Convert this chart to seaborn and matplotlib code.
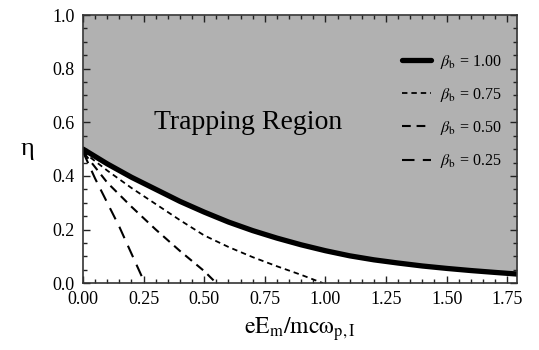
import numpy as np
import pandas as pd
import matplotlib
matplotlib.use("Agg")
import matplotlib.pyplot as plt
import seaborn as sns
from matplotlib.ticker import MultipleLocator

# ---- data ----
x_b100 = [0.0, 0.1, 0.2, 0.3, 0.4, 0.5, 0.6, 0.7, 0.8, 0.9, 1.0, 1.1, 1.2, 1.3, 1.4, 1.5, 1.6, 1.7, 1.79]
y_b100 = [0.50, 0.445, 0.395, 0.35, 0.305, 0.265, 0.228, 0.196, 0.168, 0.143, 0.121, 0.102, 0.087, 0.075, 0.064, 0.055, 0.047, 0.040, 0.034]

x_b075 = [0.0, 0.1, 0.2, 0.3, 0.4, 0.5, 0.6, 0.7, 0.8, 0.9, 0.99]
y_b075 = [0.49, 0.42, 0.355, 0.295, 0.235, 0.178, 0.135, 0.097, 0.063, 0.031, 0.0]

x_b050 = [0.0, 0.1, 0.2, 0.3, 0.4, 0.5, 0.55]
y_b050 = [0.49, 0.375, 0.285, 0.20, 0.12, 0.045, 0.0]

x_b025 = [0.0, 0.05, 0.1, 0.15, 0.2, 0.255]
y_b025 = [0.49, 0.39, 0.30, 0.21, 0.11, 0.0]

labels = [r"$\beta_{\mathrm{b}}$ = 1.00", r"$\beta_{\mathrm{b}}$ = 0.75",
          r"$\beta_{\mathrm{b}}$ = 0.50", r"$\beta_{\mathrm{b}}$ = 0.25"]
xticks = [0.00, 0.25, 0.50, 0.75, 1.00, 1.25, 1.50, 1.75]
yticks = [0.0, 0.2, 0.4, 0.6, 0.8, 1.0]

sns.set_theme(style="ticks")
plt.rcParams["font.family"] = ["Liberation Serif", "DejaVu Serif"]
plt.rcParams["mathtext.fontset"] = "stix"
plt.rcParams["text.color"] = "black"
plt.rcParams["axes.labelcolor"] = "black"

fig = plt.figure(figsize=(5.39, 3.5), dpi=100)
ax = fig.add_axes([0.154, 0.191, 0.805, 0.766])

ax.set_xlim(0, 1.79)
ax.set_ylim(0, 1.0)

# gray trapping region above the beta=1 curve
ax.fill_between(x_b100, y_b100, 1.0, color="#b1b1b1", lw=0, zorder=0)

series = [(x_b100, y_b100, dict(lw=3.8, ls="-")),
          (x_b075, y_b075, dict(lw=1.3, ls=(0, (3.0, 2.2)))),
          (x_b050, y_b050, dict(lw=1.5, ls=(0, (4.2, 2.8)))),
          (x_b025, y_b025, dict(lw=1.5, ls=(0, (6.0, 4.0))))]
for (xs, ys, st), lab in zip(series, labels):
    df = pd.DataFrame({"x": xs, "y": ys})
    sns.lineplot(data=df, x="x", y="y", ax=ax, color="black", label=lab,
                 sort=False, estimator=None, linewidth=st["lw"], linestyle=st["ls"])

ax.set_xticks(xticks)
ax.set_xticklabels([f"{t:.2f}" for t in xticks])
ax.set_yticks(yticks)
ax.set_yticklabels([f"{t:.1f}" for t in yticks])
ax.xaxis.set_minor_locator(MultipleLocator(0.05))
ax.yaxis.set_minor_locator(MultipleLocator(0.05))
ax.tick_params(which="both", direction="in", top=True, right=True, colors="#222222",
               labelcolor="black", labelsize=13, width=1.0)
ax.tick_params(which="major", length=5, pad=6)
ax.tick_params(which="minor", length=3)
for s in ax.spines.values():
    s.set_color("#333333")
    s.set_linewidth(1.2)

ax.set_xlabel(r"$\mathrm{eE_m/mc\omega_{p,I}}$", fontsize=17, labelpad=5)
ax.set_ylabel("η", fontsize=19, rotation=0, labelpad=18, va="center")

ax.text(0.68, 0.60, "Trapping Region", fontsize=20, ha="center", va="center")

leg = ax.legend(loc="upper left", bbox_to_anchor=(0.735, 0.86), frameon=False,
                fontsize=11.5, handlelength=1.8, handletextpad=0.6,
                labelspacing=0.95, borderpad=0, borderaxespad=0)

fig.savefig("out.png", dpi=100)
